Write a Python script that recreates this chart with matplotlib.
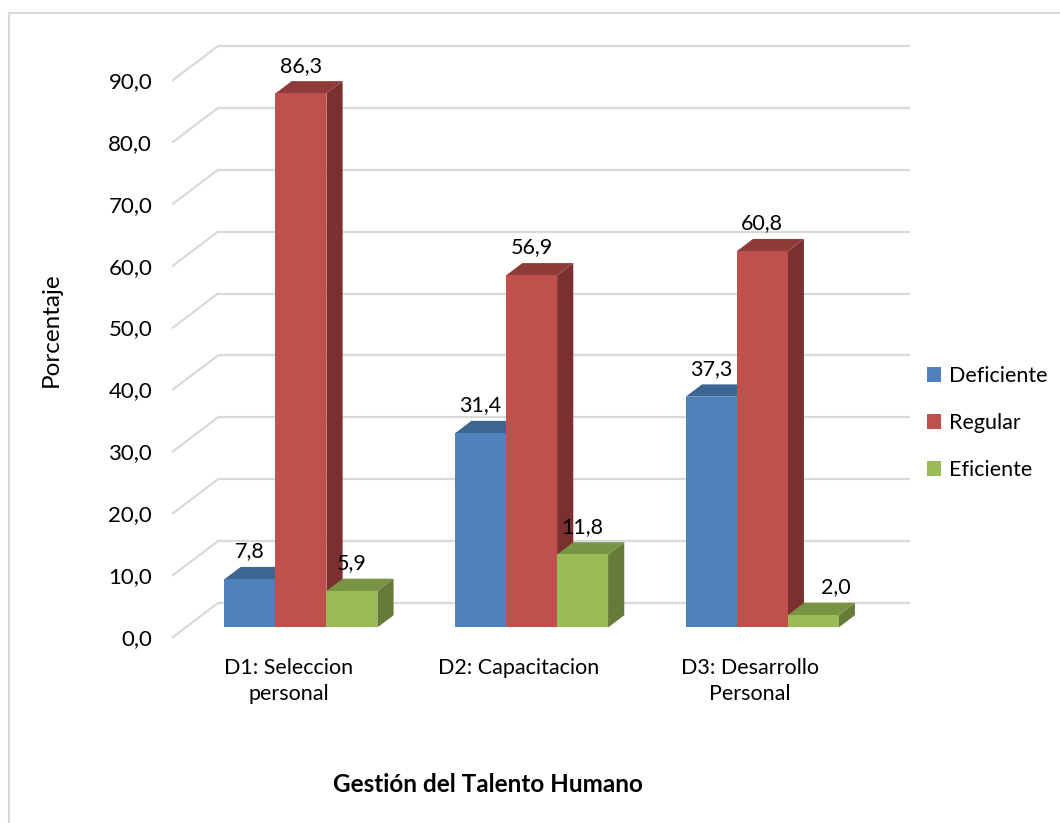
import numpy as np
import matplotlib
matplotlib.use("Agg")
import matplotlib.pyplot as plt
from matplotlib.patches import Polygon, Rectangle, Patch
from matplotlib.lines import Line2D

plt.rcParams["font.family"] = ["Lato", "DejaVu Sans"]

# data
categories = ["D1: Seleccion\npersonal", "D2: Capacitacion", "D3: Desarrollo\nPersonal"]
series = ["Deficiente", "Regular", "Eficiente"]
deficiente = [7.8, 31.4, 37.3]
regular = [86.3, 56.9, 60.8]
eficiente = [5.9, 11.8, 2.0]
yticks = np.arange(0, 100, 10)

values = [deficiente, regular, eficiente]

# face colours: front, top, side
front_cols = ["#4F81BD", "#C0504D", "#9BBB59"]
top_cols = ["#3D6592", "#8F3B39", "#789343"]
side_cols = ["#365A85", "#7B302F", "#657B37"]

# oblique depth of the floor, in data units
DX = 0.195
DY = 5.5
F0, F1 = 0.28, 0.64   # bar depth range inside the floor
W = 0.221             # bar width
GRID = "#d9d9d9"

fig = plt.figure(figsize=(10.6, 8.23), dpi=100)
W_PX, H_PX = 1060, 823
ax = fig.add_axes([173 / W_PX, (H_PX - 637) / H_PX, (910 - 173) / W_PX, (637 - 46) / H_PX])
ax.set_xlim(-0.5, len(categories) - 0.5 + DX)
ax.set_ylim(0, 90 + DY)
for s in ax.spines.values():
    s.set_visible(False)

# back wall gridlines + side diagonals
for v in yticks:
    ax.plot([-0.5 + DX, len(categories) - 0.5 + DX], [v + DY, v + DY],
            color=GRID, lw=1.6, zorder=1, clip_on=False, solid_capstyle="butt")
    ax.plot([-0.5, -0.5 + DX], [v, v + DY], color=GRID, lw=1.6, zorder=1, clip_on=False)

# 3d-looking bars, drawn left to right so later faces cover earlier sides
d = F1 - F0
z = 3
for i in range(len(categories)):
    for j in range(len(series)):
        v = values[j][i]
        xc = i + (j - 1) * W
        x0 = xc - W / 2 + F0 * DX
        y0 = F0 * DY
        y1 = v + F0 * DY
        front = Rectangle((x0, y0), W, v, facecolor=front_cols[j], edgecolor="none", zorder=z)
        top = Polygon([(x0, y1), (x0 + W, y1), (x0 + W + d * DX, y1 + d * DY), (x0 + d * DX, y1 + d * DY)],
                      closed=True, facecolor=top_cols[j], edgecolor="none", zorder=z)
        side = Polygon([(x0 + W, y0), (x0 + W + d * DX, y0 + d * DY), (x0 + W + d * DX, y1 + d * DY), (x0 + W, y1)],
                       closed=True, facecolor=side_cols[j], edgecolor="none", zorder=z)
        for p in (side, top, front):
            p.set_clip_on(False)
            ax.add_patch(p)
        z += 1
        # small label next to a much taller neighbour gets pushed right
        nudge = 16 if (j == 2 and v < 3) else 0
        ax.annotate(f"{v:.1f}".replace(".", ","), (xc + F0 * DX, v + F1 * DY),
                    xytext=(nudge, 4), textcoords="offset points", ha="center", va="bottom",
                    fontsize=15.5, color="#000000", zorder=20, annotation_clip=False)

# axis labels
ax.set_yticks(yticks)
ax.set_yticklabels([f"{t:.1f}".replace(".", ",") for t in yticks], fontsize=16)
ax.set_xticks(range(len(categories)))
ax.set_xticklabels(categories, fontsize=15.5, linespacing=1.4)
ax.tick_params(axis="y", length=0, pad=15)
ax.tick_params(axis="x", length=0, pad=15)

fig.text(51 / W_PX, 1 - 330 / H_PX, "Porcentaje", rotation=90, ha="center", va="center", fontsize=17.5)
fig.text(488 / W_PX, 1 - 785 / H_PX, "Gestión del Talento Humano", ha="center", va="center",
         fontsize=17.5, fontweight="bold")

handles = [Patch(facecolor=c, edgecolor="none") for c in front_cols]
fig.legend(handles, series, loc="center left", bbox_to_anchor=(927 / W_PX, 1 - 423 / H_PX),
           frameon=False, fontsize=15.5, handlelength=0.65, handleheight=0.65,
           handletextpad=0.35, labelspacing=1.25, borderpad=0, borderaxespad=0)

# chart area border
fig.add_artist(Line2D([9 / W_PX, 1], [1 - 13 / H_PX, 1 - 13 / H_PX], color=GRID, lw=1.5))
fig.add_artist(Line2D([9 / W_PX, 9 / W_PX], [0, 1 - 13 / H_PX], color=GRID, lw=1.5))

fig.savefig("out.png", dpi=100)
